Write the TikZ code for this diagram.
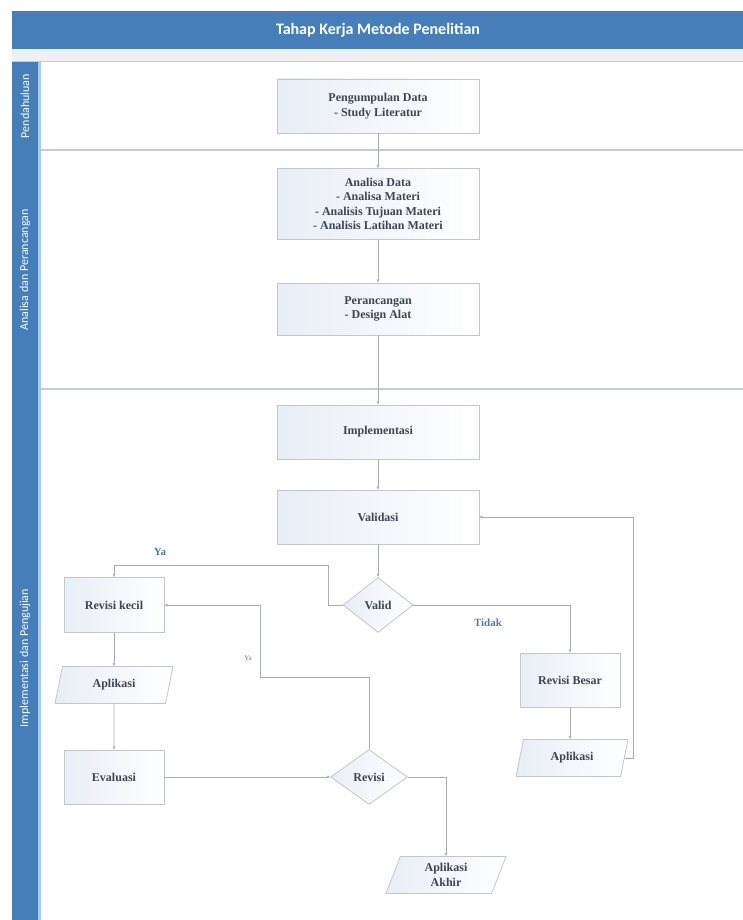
\documentclass[tikz,border=0pt]{standalone}
\usepackage{fontspec}
\setmainfont{Liberation Serif}
\newfontfamily\carl{Carlito}
\usetikzlibrary{shapes.geometric,arrows.meta}
\definecolor{hdrblue}{RGB}{70,126,186}
\definecolor{edgeblue}{RGB}{165,203,236}
\definecolor{bandgray}{RGB}{238,241,244}
\definecolor{lanegray}{RGB}{200,203,207}
\definecolor{boxedge}{RGB}{195,198,202}
\definecolor{boxbg}{RGB}{232,238,246}
\definecolor{linegray}{RGB}{170,173,177}
\definecolor{txt}{RGB}{62,70,82}
\definecolor{lbl}{RGB}{80,125,175}
\begin{document}
\begin{tikzpicture}[x=1pt,y=-1pt,
  box/.style={draw=boxedge, line width=0.8pt, left color=boxbg, right color=white,
    text=txt, font=\bfseries\fontsize{12}{14.5}\selectfont, align=center, inner sep=2pt},
  proc/.style={box, rectangle, minimum width=202pt, minimum height=54pt},
  sproc/.style={box, rectangle, minimum width=100pt, minimum height=55pt},
  dec/.style={box, diamond, minimum width=72pt, minimum height=55pt, inner sep=0pt},
  io/.style={box, trapezium, trapezium left angle=60, trapezium right angle=120,
    trapezium stretches body, minimum width=118pt, minimum height=37pt, inner sep=1pt},
  conn/.style={draw=linegray, line width=0.7pt, -{Stealth[length=3.5pt,width=3pt]}},
  lanetxt/.style={rotate=90, text=white, font=\carl\fontsize{12}{12}\selectfont},
  yalbl/.style={text=lbl, font=\bfseries\fontsize{11}{11}\selectfont}
]
\useasboundingbox (0,0) rectangle (743,920);
% header
\fill[hdrblue] (12,11) rectangle (743,49);
\fill[bandgray] (12,49) rectangle (743,62);
\draw[lanegray, line width=1pt] (12,62) -- (743,62);
\node[text=white, font=\carl\bfseries\fontsize{16}{16}\selectfont] (title) at (378,30) {Tahap Kerja Metode Penelitian};
% lane column
\fill[hdrblue] (12,62) rectangle (38,920);
\fill[edgeblue] (38,62) rectangle (40.5,920);
\draw[lanegray, line width=1.2pt] (40.5,150) -- (743,150);
\draw[lanegray, line width=1.2pt] (40.5,389) -- (743,389);
\node[lanetxt] (l1) at (25,106) {Pendahuluan};
\node[lanetxt] (l2) at (25,270) {Analisa dan Perancangan};
\node[lanetxt] (l3) at (25,658) {Implementasi dan Pengujian};
% nodes
\node[proc] (pd) at (378,106) {Pengumpulan Data\\- Study Literatur};
\node[proc, minimum height=71pt] (ad) at (378,204) {Analisa Data\\- Analisa Materi\\- Analisis Tujuan Materi\\- Analisis Latihan Materi};
\node[proc, minimum height=52pt] (pr) at (378,309) {Perancangan\\- Design Alat};
\node[proc] (im) at (378,432) {Implementasi};
\node[proc] (val) at (378,517) {Validasi};
\node[dec, minimum width=70pt] (vd) at (378,605) {Valid};
\node[sproc] (rk) at (114,605) {Revisi kecil};
\node[io] (apl) at (114,685) {Aplikasi};
\node[sproc, minimum height=54pt] (ev) at (114,777) {Evaluasi};
\node[dec, minimum width=77pt] (rv) at (369,777) {Revisi};
\node[io, minimum width=120pt] (aa) at (446,875) {Aplikasi\\Akhir};
\node[sproc, minimum height=54pt] (rb) at (570,680) {Revisi Besar};
\node[io, minimum width=112pt] (apr) at (572,758) {Aplikasi};
% helper coordinates
\coordinate (ya1) at (328,565);
\coordinate (ya2) at (260,677);
\coordinate (rx) at (633,517);
% connectors
\draw[conn] (pd) -- (ad);
\draw[conn] (ad) -- (pr);
\draw[conn] (pr) -- (im);
\draw[conn] (im) -- (val);
\draw[conn] (val) -- (vd);
\draw[conn] (vd.west) -| (ya1) -| (rk.north);
\draw[conn] (vd.east) -| (rb.north);
\draw[conn] (rb) -- (rb |- apr.north);
\draw[conn] (apr.east) -| (rx) -- (val.east);
\draw[conn] (rk) -- (apl);
\draw[conn] (apl) -- (ev);
\draw[conn] (ev) -- (rv);
\draw[conn] (rv.north) |- (ya2) |- (rk.east);
\draw[conn] (rv.east) -| (aa.north);
% labels
\node[yalbl] (lya) at (160,552) {Ya};
\node[yalbl] (ltd) at (488,623) {Tidak};
\node[text=lbl, font=\fontsize{7}{7}\selectfont] (lya2) at (248,658) {Ya};
\end{tikzpicture}
\end{document}
